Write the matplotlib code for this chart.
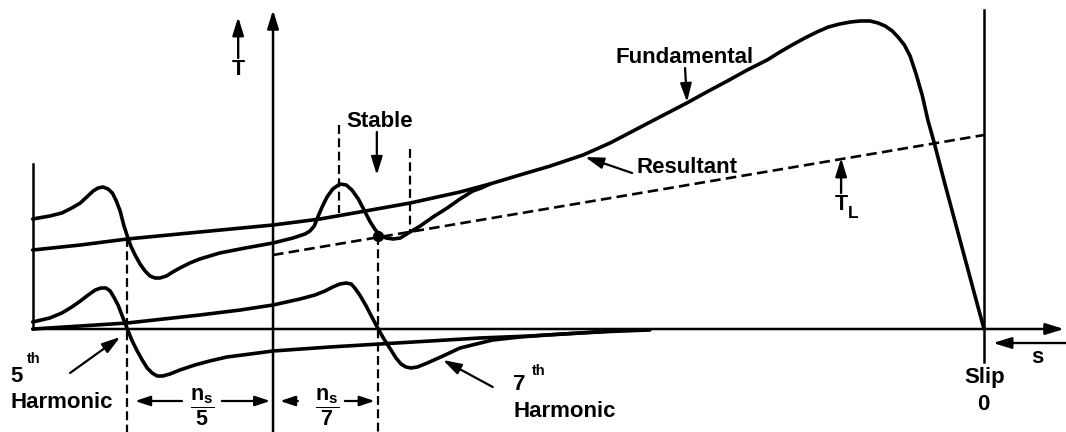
import matplotlib
matplotlib.use("Agg")
import matplotlib.pyplot as plt

plt.rcParams['font.family'] = ['Liberation Sans', 'DejaVu Sans']
plt.rcParams['font.weight'] = 'bold'
plt.rcParams['mathtext.fontset'] = 'custom'
plt.rcParams['mathtext.rm'] = 'Liberation Sans:bold'
plt.rcParams['mathtext.it'] = 'Liberation Sans:bold'
plt.rcParams['mathtext.bf'] = 'Liberation Sans:bold'

# Speed as a fraction of synchronous speed (0 = standstill, 1 = synchronous),
# torque in arbitrary units.
fund_speed = [-0.338, -0.271, -0.205, -0.103, 0.0, 0.066, 0.122, 0.193, 0.263, 0.305,
              0.347, 0.390, 0.436, 0.474, 0.509, 0.544, 0.582, 0.610, 0.639, 0.667,
              0.695, 0.713, 0.730, 0.748, 0.765, 0.781, 0.797, 0.812, 0.826, 0.840,
              0.851, 0.861, 0.871, 0.879, 0.888, 0.896, 0.904, 0.913, 0.921, 0.930,
              0.945, 0.959, 0.973, 0.987, 1.000]
fund_torque = [0.79, 0.84, 0.90, 0.97, 1.04, 1.10, 1.17, 1.26, 1.37, 1.45,
               1.54, 1.63, 1.74, 1.86, 1.99, 2.12, 2.26, 2.37, 2.48, 2.59,
               2.69, 2.77, 2.84, 2.91, 2.97, 3.02, 3.05, 3.07, 3.08, 3.08,
               3.06, 3.03, 2.98, 2.92, 2.84, 2.73, 2.56, 2.34, 2.09, 1.86,
               1.45, 1.08, 0.71, 0.34, 0.00]

res_speed = [-0.338, -0.314, -0.297, -0.283, -0.271, -0.262, -0.253, -0.246, -0.239, -0.232,
             -0.226, -0.221, -0.215, -0.210, -0.205, -0.200, -0.194, -0.187, -0.180, -0.173,
             -0.166, -0.159, -0.150, -0.141, -0.131, -0.117, -0.103, -0.075, -0.039, 0.0,
             0.028, 0.045, 0.052, 0.058, 0.063, 0.069, 0.076, 0.084, 0.094, 0.103,
             0.111, 0.120, 0.128, 0.136, 0.143, 0.150, 0.159, 0.169, 0.179, 0.188,
             0.207, 0.225, 0.245, 0.263, 0.281, 0.293, 0.305]
res_torque = [1.10, 1.13, 1.16, 1.21, 1.26, 1.32, 1.38, 1.41, 1.42, 1.40,
              1.36, 1.29, 1.18, 1.04, 0.93, 0.83, 0.74, 0.65, 0.58, 0.53,
              0.51, 0.51, 0.53, 0.57, 0.61, 0.66, 0.70, 0.76, 0.81, 0.86,
              0.91, 0.95, 0.98, 1.03, 1.12, 1.22, 1.32, 1.40, 1.45, 1.44,
              1.39, 1.30, 1.19, 1.08, 1.00, 0.94, 0.91, 0.90, 0.91, 0.95,
              1.03, 1.12, 1.21, 1.30, 1.38, 1.41, 1.45]

h5_speed = [-0.338, -0.314, -0.297, -0.283, -0.271, -0.260, -0.250, -0.242, -0.235, -0.229,
            -0.224, -0.218, -0.212, -0.205, -0.198, -0.191, -0.184, -0.177, -0.170, -0.163,
            -0.155, -0.145, -0.131, -0.110, -0.089, -0.065, -0.032, 0.0, 0.080, 0.150,
            0.221, 0.291, 0.361, 0.432, 0.488, 0.530]
h5_torque = [0.07, 0.11, 0.16, 0.22, 0.28, 0.34, 0.39, 0.41, 0.41, 0.38,
             0.32, 0.24, 0.13, 0.00, -0.12, -0.22, -0.31, -0.39, -0.44, -0.47,
             -0.47, -0.45, -0.41, -0.36, -0.32, -0.28, -0.25, -0.22, -0.18, -0.15,
             -0.12, -0.09, -0.07, -0.04, -0.02, -0.01]

h7_speed = [-0.338, -0.271, -0.205, -0.103, -0.046, 0.0, 0.038, 0.059, 0.073, 0.084,
            0.094, 0.103, 0.110, 0.115, 0.122, 0.131, 0.139, 0.148, 0.156, 0.165,
            0.173, 0.180, 0.187, 0.194, 0.203, 0.217, 0.239, 0.263, 0.286, 0.309,
            0.347, 0.385, 0.432, 0.474, 0.516]
h7_torque = [0.00, 0.03, 0.06, 0.14, 0.19, 0.24, 0.30, 0.34, 0.38, 0.42,
             0.45, 0.46, 0.45, 0.41, 0.34, 0.23, 0.12, 0.00, -0.10, -0.20,
             -0.29, -0.35, -0.38, -0.39, -0.38, -0.34, -0.27, -0.19, -0.15, -0.11,
             -0.08, -0.06, -0.04, -0.02, -0.01]

load_speed = [0.0, 1.0]
load_torque = [0.74, 1.94]

stable_speed = 0.148
stable_torque = 0.93

sync5_speed = -0.205
sync7_speed = 0.148
band_speeds = [0.093, 0.192]
band_tops = [2.04, 1.80]
band_bottoms = [1.16, 0.97]

# ---- figure ----
fig = plt.figure(figsize=(10.66, 4.32), dpi=100)
ax = fig.add_axes([0, 0, 1, 1])
ax.set_xlim(-0.384, 1.1153)
ax.set_ylim(-1.03, 3.29)
ax.axis('off')

K = 'black'
curve_kw = dict(color=K, lw=2.6, solid_joinstyle='round', solid_capstyle='round')
axis_lw = 1.8

def arrow(tail, tip, lw=1.6, hl=0.55, hw=0.17):
    ax.annotate('', xy=tip, xytext=tail, annotation_clip=False,
                arrowprops=dict(arrowstyle=f'-|>,head_length={hl},head_width={hw}',
                                color=K, lw=lw, shrinkA=0, shrinkB=0,
                                mutation_scale=20))

# axes frame lines
arrow((-0.338, 0.0), (1.1125, 0.0), lw=axis_lw)
arrow((0.0, -1.03), (0.0, 3.19), lw=axis_lw)
ax.plot([-0.338, -0.338], [0.0, 1.65], color=K, lw=axis_lw)
ax.plot([1.0, 1.0], [-0.33, 3.19], color=K, lw=axis_lw)

# torque curves
ax.plot(fund_speed, fund_torque, **curve_kw)
ax.plot(res_speed, res_torque, **curve_kw)
ax.plot(h5_speed, h5_torque, **curve_kw)
ax.plot(h7_speed, h7_torque, **curve_kw)

# load torque line
ax.plot(load_speed, load_torque, color=K, lw=1.9, dashes=(4, 2))
ax.plot(stable_speed, stable_torque, 'o', color=K, ms=7)

# dashed markers
ax.plot([sync5_speed, sync5_speed], [0.91, -1.03], color=K, lw=1.6, dashes=(4, 2))
ax.plot([sync7_speed, sync7_speed], [stable_torque, -1.03], color=K, lw=1.6, dashes=(4, 2))
for s, t, b in zip(band_speeds, band_tops, band_bottoms):
    ax.plot([s, s], [t, b], color=K, lw=1.6, dashes=(4, 2))

fs = 16
# axis labels
arrow((-0.049, 2.71), (-0.049, 3.12), lw=1.7)
ax.text(-0.049, 2.54, 'T', ha='center', va='baseline', fontsize=15.5)

arrow((0.799, 1.36), (0.799, 1.71), lw=1.7)
ax.text(0.799, 1.19, 'T', ha='center', va='baseline', fontsize=15.5)
ax.text(0.808, 1.11, 'L', ha='left', va='baseline', fontsize=12.5)

ax.text(0.5795, 2.66, 'Fundamental', ha='center', va='baseline', fontsize=fs)
arrow((0.5795, 2.61), (0.5823, 2.27))

ax.text(0.582, 1.56, 'Resultant', ha='center', va='baseline', fontsize=fs)
arrow((0.505, 1.56), (0.439, 1.72))

ax.text(0.1505, 2.02, 'Stable', ha='center', va='baseline', fontsize=fs)
arrow((0.146, 1.97), (0.146, 1.54))

# harmonic labels
ax.text(-0.361, -0.53, '5', ha='center', va='baseline', fontsize=fs)
ax.text(-0.346, -0.34, 'th', ha='left', va='baseline', fontsize=10.5)
ax.text(-0.2975, -0.79, 'Harmonic', ha='center', va='baseline', fontsize=fs)
arrow((-0.2855, -0.44), (-0.215, -0.08))

ax.text(0.347, -0.61, '7', ha='center', va='baseline', fontsize=fs)
ax.text(0.364, -0.46, 'th', ha='left', va='baseline', fontsize=10.5)
ax.text(0.4107, -0.88, 'Harmonic', ha='center', va='baseline', fontsize=fs)
arrow((0.309, -0.58), (0.239, -0.31))

# slip labels
ax.text(1.0014, -0.54, 'Slip', ha='center', va='baseline', fontsize=fs)
ax.text(0.9986, -0.81, '0', ha='center', va='baseline', fontsize=fs)
ax.text(1.0745, -0.34, 's', ha='center', va='baseline', fontsize=fs)
arrow((1.115, -0.14), (1.0127, -0.14), lw=1.7)

# synchronous speed spans
ax.text(-0.100, -0.785, r'$\dfrac{n_s}{5}$', ha='center', va='center', fontsize=15.5)
ax.text(0.076, -0.785, r'$\dfrac{n_s}{7}$', ha='center', va='center', fontsize=15.5)
arrow((-0.128, -0.72), (-0.194, -0.72), hl=0.45, hw=0.15)
arrow((-0.072, -0.72), (-0.004, -0.72), hl=0.45, hw=0.15)
arrow((0.035, -0.72), (0.010, -0.72), hl=0.45, hw=0.15)
arrow((0.101, -0.72), (0.143, -0.72), hl=0.45, hw=0.15)

fig.savefig('out.png', dpi=100)
